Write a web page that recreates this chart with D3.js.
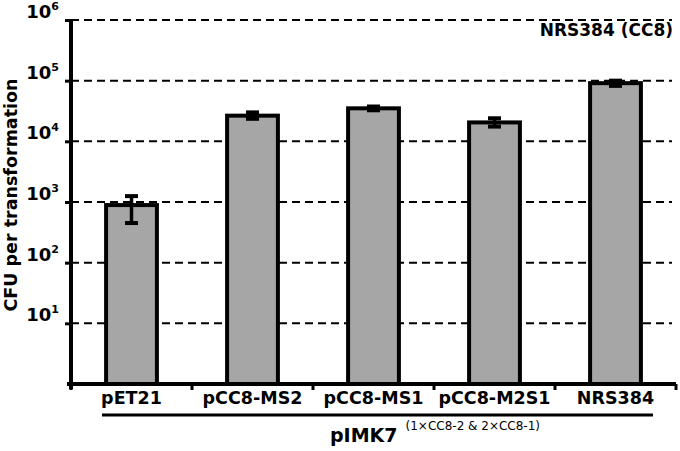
<!DOCTYPE html>
<html><head><meta charset="utf-8">
<script src="https://cdn.jsdelivr.net/npm/d3@7"></script>
<style>body{margin:0;background:#fff}svg{display:block}text{font-family:"DejaVu Sans",sans-serif;font-weight:bold}</style>
</head><body><svg id="c" width="680" height="451"></svg>
<script>
const categories = ["pET21","pCC8-MS2","pCC8-MS1","pCC8-M2S1","NRS384"];
const values = [890, 26500, 35000, 20500, 91000];
const errLow = [450, 23500, 32500, 17500, 82000];
const errHigh = [1250, 30000, 37500, 24000, 100000];
const yTicks = [1e1,1e2,1e3,1e4,1e5,1e6];
const tickExp = ["1","2","3","4","5","6"];

const svg = d3.select("#c");
const x0 = 71, x1 = 676, yTop = 20, yBot = 384;
const x = d3.scaleBand().domain(categories).range([x0, x1]).paddingInner(0.58).paddingOuter(0.29);
const y = d3.scaleLog().domain([1, 1e6]).range([yBot, yTop]);

// gridlines
svg.append("g").selectAll("line").data(yTicks).join("line")
  .attr("x1", x0).attr("x2", 672).attr("y1", d=>y(d)).attr("y2", d=>y(d))
  .attr("stroke","#000").attr("stroke-width",2).attr("stroke-dasharray","8,5");

// bars
svg.append("g").selectAll("rect").data(categories).join("rect")
  .attr("x", d=>x(d)).attr("width", x.bandwidth())
  .attr("y", (d,i)=>y(values[i])).attr("height",(d,i)=>yBot-y(values[i]))
  .attr("fill","#a6a6a6").attr("stroke","#000").attr("stroke-width",4);

// error bars
const eg = svg.append("g");
categories.forEach((c,i)=>{
  const cx = x(c)+x.bandwidth()/2;
  eg.append("line").attr("x1",cx).attr("x2",cx).attr("y1",y(errHigh[i])).attr("y2",y(errLow[i])).attr("stroke","#000").attr("stroke-width",3.5);
  [errHigh[i],errLow[i]].forEach(v=>eg.append("line").attr("x1",cx-6.5).attr("x2",cx+6.5).attr("y1",y(v)).attr("y2",y(v)).attr("stroke","#000").attr("stroke-width",4));
});

// y axis
const ya = d3.axisLeft(y).tickValues(yTicks).tickSize(6).tickFormat("");
const yg = svg.append("g").attr("transform",`translate(${x0},0)`).call(ya);
yg.select(".domain").remove();
yg.selectAll(".tick line").attr("stroke","#000").attr("stroke-width",3);
svg.append("line").attr("x1",x0).attr("x2",x0).attr("y1",yTop-1).attr("y2",yBot+5).attr("stroke","#000").attr("stroke-width",4);
yTicks.forEach((t,i)=>{
  const tx = svg.append("text").attr("x",59).attr("y",y(t)-2).attr("text-anchor","end").attr("font-size",18).attr("fill","#000");
  tx.append("tspan").text("10");
  tx.append("tspan").attr("dy",-8).attr("font-size",11).text(tickExp[i]);
});

// x axis
svg.append("line").attr("x1",x0-4).attr("x2",x1).attr("y1",yBot).attr("y2",yBot).attr("stroke","#000").attr("stroke-width",4);
const step = x.step();
const bounds = categories.map(c=>x(c)-x.paddingInner()*step/2).concat([x1]);
svg.append("g").selectAll("line").data(bounds).join("line")
  .attr("x1",d=>d).attr("x2",d=>d).attr("y1",yBot).attr("y2",yBot+6).attr("stroke","#000").attr("stroke-width",3);
svg.append("g").selectAll("text").data(categories).join("text")
  .attr("x",d=>x(d)+x.bandwidth()/2).attr("y",404).attr("text-anchor","middle").attr("font-size",17.5).attr("fill","#000").text(d=>d);

// bracket
svg.append("line").attr("x1",102).attr("x2",653).attr("y1",415).attr("y2",415).attr("stroke","#000").attr("stroke-width",3);
const pt = svg.append("text").attr("x",330).attr("y",442).attr("font-size",19).attr("fill","#000");
pt.append("tspan").text("pIMK7");
pt.append("tspan").attr("dx",8).attr("dy",-12).attr("font-size",12).attr("font-weight","normal").text("(1×CC8-2 & 2×CC8-1)");

// annotation
svg.append("text").attr("x",673).attr("y",36).attr("text-anchor","end").attr("font-size",17).attr("fill","#000").text("NRS384 (CC8)");

// y title
svg.append("text").attr("transform","translate(17,195) rotate(-90)").attr("text-anchor","middle").attr("font-size",17.5).attr("fill","#000").text("CFU per transformation");
</script></body></html>
